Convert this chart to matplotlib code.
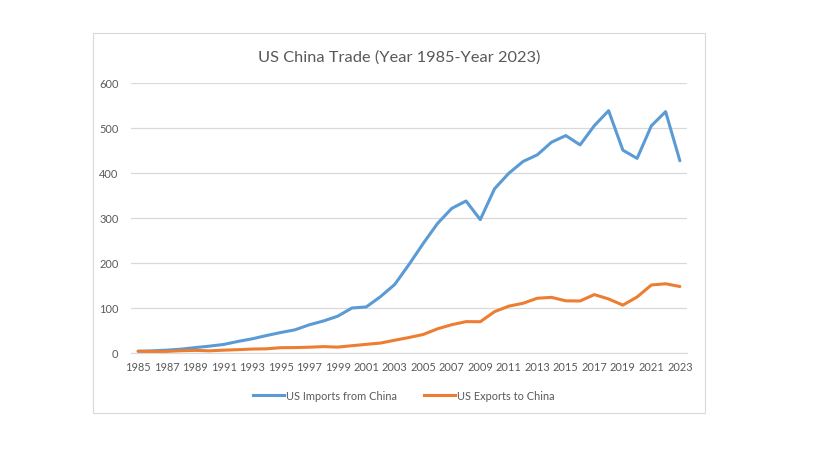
import matplotlib
matplotlib.use("Agg")
import matplotlib.pyplot as plt
from matplotlib.patches import Rectangle
from matplotlib.lines import Line2D

years = list(range(1985, 2024))
imports_from_china = [
    3.9, 4.8, 6.3, 8.5, 12.0, 15.2, 19.0, 25.7, 31.5, 38.8,
    45.5, 51.5, 62.6, 71.2, 81.8, 100.0, 102.3, 125.2, 152.4, 196.7,
    243.5, 287.8, 321.4, 337.8, 296.4, 364.9, 399.4, 425.6, 440.4, 468.5,
    483.2, 462.4, 505.2, 538.5, 450.8, 432.5, 504.9, 536.3, 427.2,
]
exports_to_china = [
    3.9, 3.1, 3.5, 5.0, 5.8, 4.8, 6.3, 7.4, 8.8, 9.3,
    11.8, 12.0, 12.9, 14.2, 13.1, 16.2, 19.2, 22.1, 28.4, 34.4,
    41.2, 53.7, 62.9, 69.7, 69.5, 91.9, 104.1, 110.5, 121.7, 123.6,
    115.9, 115.6, 129.8, 120.1, 106.4, 124.5, 151.1, 153.8, 147.8,
]
series_names = ["US Imports from China", "US Exports to China"]
title = "US China Trade (Year 1985-Year 2023)"

BLUE = "#5B9BD5"
ORANGE = "#ED7D31"
TEXT = "#595959"
GRID = "#D9D9D9"

plt.rcParams["font.family"] = ["Lato", "DejaVu Sans"]

W, H = 819, 460
fig = plt.figure(figsize=(W / 100, H / 100), dpi=100)

# chart area border, like the Excel chart box
fig.patches.append(Rectangle((93 / W, 1 - 414 / H), (705 - 93) / W, (414 - 34) / H,
                             transform=fig.transFigure, fill=False,
                             edgecolor="#D9D9D9", linewidth=0.8))

ax = fig.add_axes([131 / W, 1 - 354 / H, (687 - 131) / W, (354 - 84) / H])
x = list(range(len(years)))
ax.plot(x, imports_from_china, color=BLUE, linewidth=2.2, solid_capstyle="round")
ax.plot(x, exports_to_china, color=ORANGE, linewidth=2.2, solid_capstyle="round")

ax.set_xlim(-0.5, len(years) - 0.5)
ax.set_ylim(0, 600)
ax.set_yticks(range(0, 601, 100))
ax.set_xticks(x[::2])
ax.set_xticklabels([str(y) for y in years[::2]])
ax.grid(axis="y", color=GRID, linewidth=0.9)
ax.set_axisbelow(True)
for s in ["top", "right", "left"]:
    ax.spines[s].set_visible(False)
ax.spines["bottom"].set_color(GRID)
ax.tick_params(length=0, labelsize=7.9, colors=TEXT)
ax.tick_params(axis="y", pad=9)
ax.tick_params(axis="x", pad=6)

fig.text(399 / W, 1 - 58 / H, title, ha="center", va="center",
         fontsize=11.8, color=TEXT)

handles = [Line2D([], [], color=BLUE, linewidth=2.2),
           Line2D([], [], color=ORANGE, linewidth=2.2)]
fig.legend(handles, series_names, loc="center", bbox_to_anchor=(404 / W, 1 - 396 / H),
           ncol=2, frameon=False, fontsize=7.9, labelcolor=TEXT,
           handlelength=2.8, handletextpad=0.2, columnspacing=2.5)

fig.savefig("out.png", dpi=100, facecolor="white")
